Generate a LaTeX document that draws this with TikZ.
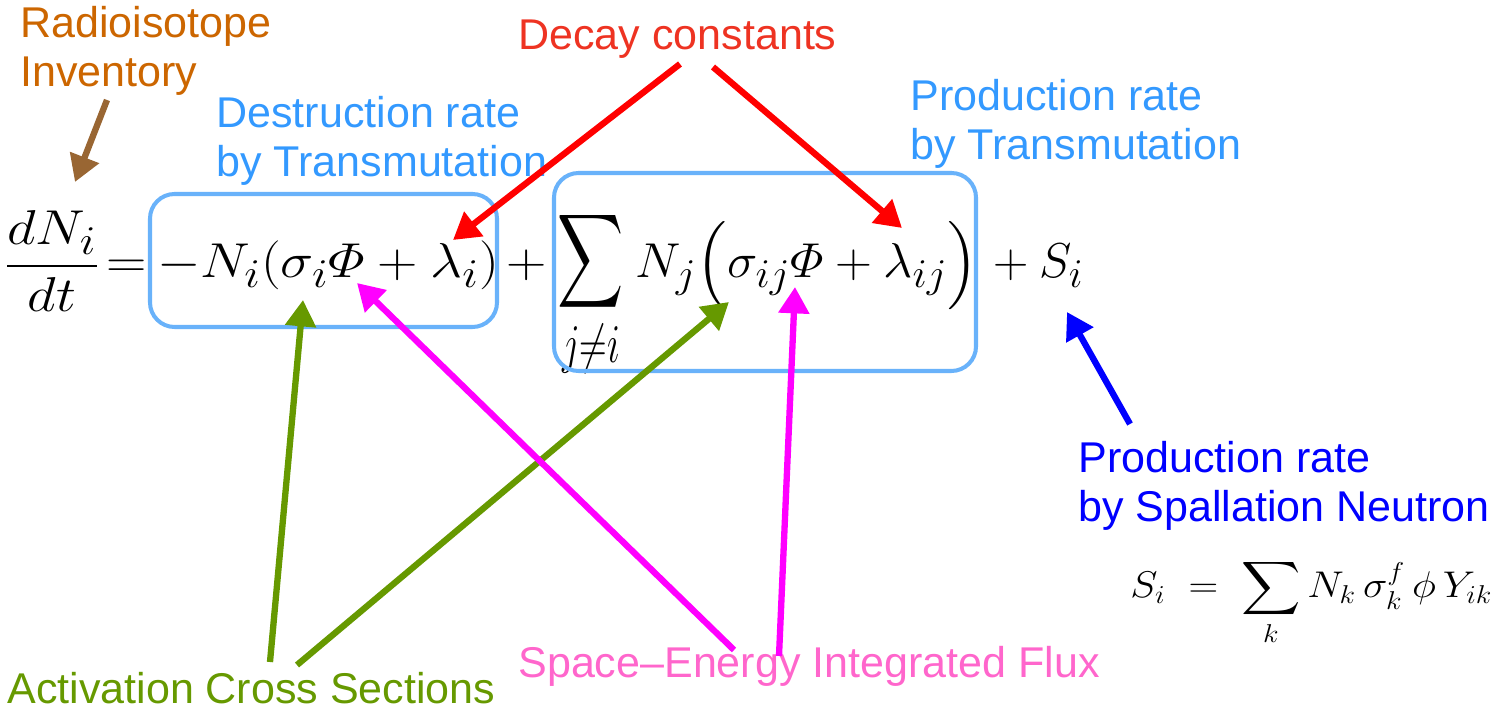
\documentclass[tikz,border=0pt]{standalone}
\usepackage{amsmath}
\usepackage[no-math]{fontspec}
\setmainfont{Liberation Sans}
\usetikzlibrary{arrows.meta,fit}
\definecolor{cOrange}{RGB}{204,102,0}
\definecolor{cBrown}{RGB}{153,102,51}
\definecolor{cLBlue}{RGB}{51,153,255}
\definecolor{cBox}{RGB}{105,178,250}
\definecolor{cRedTxt}{RGB}{238,51,34}
\definecolor{cRed}{RGB}{255,0,0}
\definecolor{cBlue}{RGB}{0,0,255}
\definecolor{cGreen}{RGB}{102,153,0}
\definecolor{cMag}{RGB}{255,0,255}
\definecolor{cPink}{RGB}{255,102,204}
\newcommand{\bigmath}[2][1.28]{\scalebox{#1}[1.12]{$#2$}}
\tikzset{
  lbl/.style={inner sep=0pt, anchor=base west, align=left, font=\fontsize{24.5}{28.35}\selectfont},
  eqn/.style={inner sep=0pt, anchor=base, font=\fontsize{24.88}{30}\selectfont},
  termbox/.style={draw=cBox, line width=2.3pt, rounded corners=14pt, inner sep=0pt},
  pointer/.style={line width=3.6pt, -{Triangle[width=17pt,length=15pt]}},
}
\begin{document}
\begin{tikzpicture}[x=0.02cm,y=-0.02cm]
\useasboundingbox (0,0) rectangle (1508,712);
% equation
\node[eqn] (frac) at (52,278) {\bigmath{\dfrac{dN_i}{dt}}};
\node[eqn] (eq) at (127,278) {\bigmath{=}};
\node[eqn] (t1) at (328,278) {\bigmath{-N_i(\sigma_i\varPhi+\lambda_i)}};
\node[eqn] (p1) at (527,278) {\bigmath{+}};
\node[eqn] (sum) at (591,278) {\scalebox{1.05}[1.5]{$\displaystyle\sum_{j\neq i}$}};
\node[eqn] (t2) at (807,278) {\bigmath[1.17]{N_j\Bigl(\sigma_{ij}\varPhi+\lambda_{ij}\Bigr)}};
\node[eqn, anchor=base west] (t3) at (982,278) {\bigmath[1.12]{{}+S_i}};
\node[termbox, fit={(150,194) (497,327)}] (box1) {};
\node[termbox, fit={(554,173) (976,371)}] (box2) {};
\node[inner sep=0pt, anchor=base west, font=\fontsize{20.74}{25}\selectfont] (si) at (1130,598)
  {\scalebox{1.13}[1.02]{$S_i \;=\; \displaystyle\sum_k N_k\,\sigma_k^f\,\phi\, Y_{ik}$}};
% labels (anchor = baseline of last line)
\node[lbl, text=cOrange] (inv) at (20,87) {Radioisotope\\Inventory};
\node[lbl, text=cLBlue] (dest) at (216,177) {Destruction rate\\by Transmutation};
\node[lbl, text=cRedTxt] (decay) at (518,50) {Decay constants};
\node[lbl, text=cLBlue] (prodt) at (910,160) {Production rate\\by Transmutation};
\node[lbl, text=cBlue] (prods) at (1078,522) {Production rate\\by Spallation Neutron};
\node[lbl, text=cGreen] (act) at (7,703) {Activation Cross Sections};
\node[lbl, text=cPink] (flux) at (518,677) {Space--Energy Integrated Flux};
% arrow end points
\coordinate (bA) at (107,100); \coordinate (bB) at (75,182);
\coordinate (rA) at (680,64);  \coordinate (rB) at (453,240);
\coordinate (rC) at (713,67);  \coordinate (rD) at (902,228);
\coordinate (gA) at (270,662); \coordinate (gB) at (303,300);
\coordinate (gC) at (297,665); \coordinate (gD) at (729,302);
\coordinate (mA) at (734,650); \coordinate (mB) at (357,283);
\coordinate (mC) at (779,656); \coordinate (mD) at (795,287);
\coordinate (uA) at (1130,424); \coordinate (uB) at (1067,312);
\draw[pointer, cBrown] (bA) -- (bB);
\draw[pointer, cRed] (rA) -- (rB);
\draw[pointer, cRed] (rC) -- (rD);
\draw[pointer, cGreen] (gA) -- (gB);
\draw[pointer, cGreen] (gC) -- (gD);
\draw[pointer, cMag] (mA) -- (mB);
\draw[pointer, cMag] (mC) -- (mD);
\draw[pointer, cBlue] (uA) -- (uB);
\end{tikzpicture}
\end{document}
